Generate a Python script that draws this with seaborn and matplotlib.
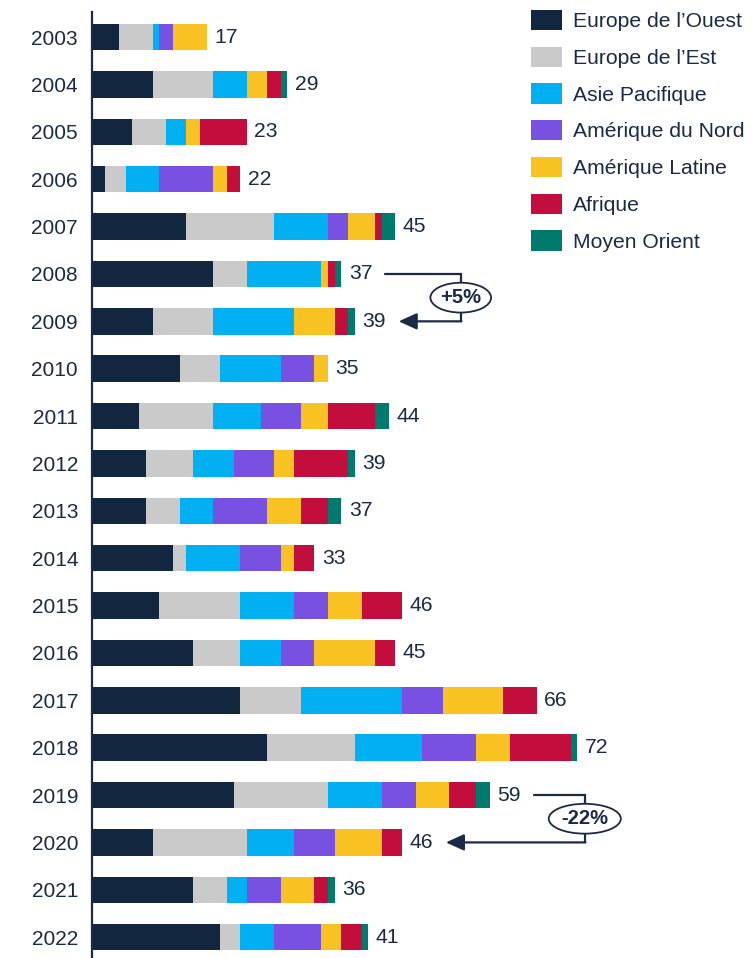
import numpy as np
import pandas as pd
import matplotlib
matplotlib.use("Agg")
import matplotlib.pyplot as plt
import seaborn as sns
from matplotlib.patches import Ellipse, Patch

# Données
years = [str(y) for y in range(2003, 2023)]
regions = ["Europe de l\u2019Ouest", "Europe de l\u2019Est", "Asie Pacifique",
           "Am\u00e9rique du Nord", "Am\u00e9rique Latine", "Afrique", "Moyen Orient"]
colors = ["#12263F", "#CACACA", "#00B0F0", "#7851E3", "#F8C322", "#C30D3D", "#007A6D"]

europe_ouest = [4, 9, 6, 2, 14, 18, 9, 13, 7, 8, 8, 12, 10, 15, 22, 26, 21, 9, 15, 19]
europe_est = [5, 9, 5, 3, 13, 5, 9, 6, 11, 7, 5, 2, 12, 7, 9, 13, 14, 14, 5, 3]
asie_pacifique = [1, 5, 3, 5, 8, 11, 12, 9, 7, 6, 5, 8, 8, 6, 15, 10, 8, 7, 3, 5]
amerique_nord = [2, 0, 0, 8, 3, 0, 0, 5, 6, 6, 8, 6, 5, 5, 6, 8, 5, 6, 5, 7]
amerique_latine = [5, 3, 2, 2, 4, 1, 6, 2, 4, 3, 5, 2, 5, 9, 9, 5, 5, 7, 5, 3]
afrique = [0, 2, 7, 2, 1, 1, 2, 0, 7, 8, 4, 3, 6, 3, 5, 9, 4, 3, 2, 3]
moyen_orient = [0, 1, 0, 0, 2, 1, 1, 0, 2, 1, 2, 0, 0, 0, 0, 1, 2, 0, 1, 1]

# annotations : (année départ, année arrivée, texte, position x du crochet)
changes = [("2008", "2009", "+5%", 54.7), ("2019", "2020", "-22%", 73.1)]

navy = "#1B2A47"

df = pd.DataFrame(
    np.array([europe_ouest, europe_est, asie_pacifique, amerique_nord,
              amerique_latine, afrique, moyen_orient]).T,
    columns=regions, index=years)
cum = df.cumsum(axis=1)
totals = df.sum(axis=1)

sns.set_style("white")
plt.rcParams["font.family"] = ["Liberation Sans", "DejaVu Sans"]

fig = plt.figure(figsize=(7.56, 9.58), dpi=100)
ax = fig.add_axes([92 / 756, 0, 664 / 756, 1 - 12 / 958])

# barres empilées : on dessine les cumuls du plus grand au plus petit
for i in reversed(range(len(regions))):
    sns.barplot(x=cum[regions[i]].values, y=years, order=years, color=colors[i],
                orient="h", width=0.56, saturation=1, errorbar=None,
                linewidth=0, ax=ax)

for k, yr in enumerate(years):
    ax.text(totals[yr] + 1.1, k, f"{totals[yr]}", va="center", ha="left",
            fontsize=15.2, color=navy)

# flèches de variation
for y0, y1, label, xb in changes:
    k0, k1 = years.index(y0), years.index(y1)
    x_start = totals[y0] + 6.5
    x_tip = totals[y1] + 6.5
    ax.plot([x_start, xb, xb], [k0, k0, k1], color=navy, lw=1.6,
            solid_joinstyle="miter", zorder=3)
    ax.annotate("", xy=(x_tip, k1), xytext=(xb + 0.1, k1),
                arrowprops=dict(arrowstyle="-|>,head_length=1.1,head_width=0.5",
                                color=navy, lw=1.6, shrinkA=0, shrinkB=0,
                                mutation_scale=10),
                zorder=3)
    w = 9.0 if len(label) < 4 else 10.7
    ax.add_patch(Ellipse((xb, (k0 + k1) / 2), w, 0.63, facecolor="white",
                         edgecolor=navy, lw=1.3, zorder=4))
    ax.text(xb, (k0 + k1) / 2, label, ha="center", va="center",
            fontsize=14.5, fontweight="bold", color=navy, zorder=5)

ax.set_xlim(0, 98.5)
ax.set_ylim(19.44, -0.53)
ax.set_xlabel("")
ax.set_ylabel("")
ax.set_xticks([])
ax.tick_params(axis="y", length=0, pad=10, labelsize=15, labelcolor=navy)
for s in ["top", "right", "bottom"]:
    ax.spines[s].set_visible(False)
ax.spines["left"].set_color(navy)
ax.spines["left"].set_linewidth(1.6)

handles = [Patch(facecolor=c, edgecolor="none") for c in colors]
fig.legend(handles, regions, loc="upper left",
           bbox_to_anchor=(531 / 756, 1 - 10 / 958), frameon=False,
           fontsize=15.2, handlelength=1.45, handleheight=1.1,
           handletextpad=0.55, labelspacing=0.73, borderpad=0,
           borderaxespad=0, labelcolor=navy)

fig.savefig("out.png", dpi=100)
